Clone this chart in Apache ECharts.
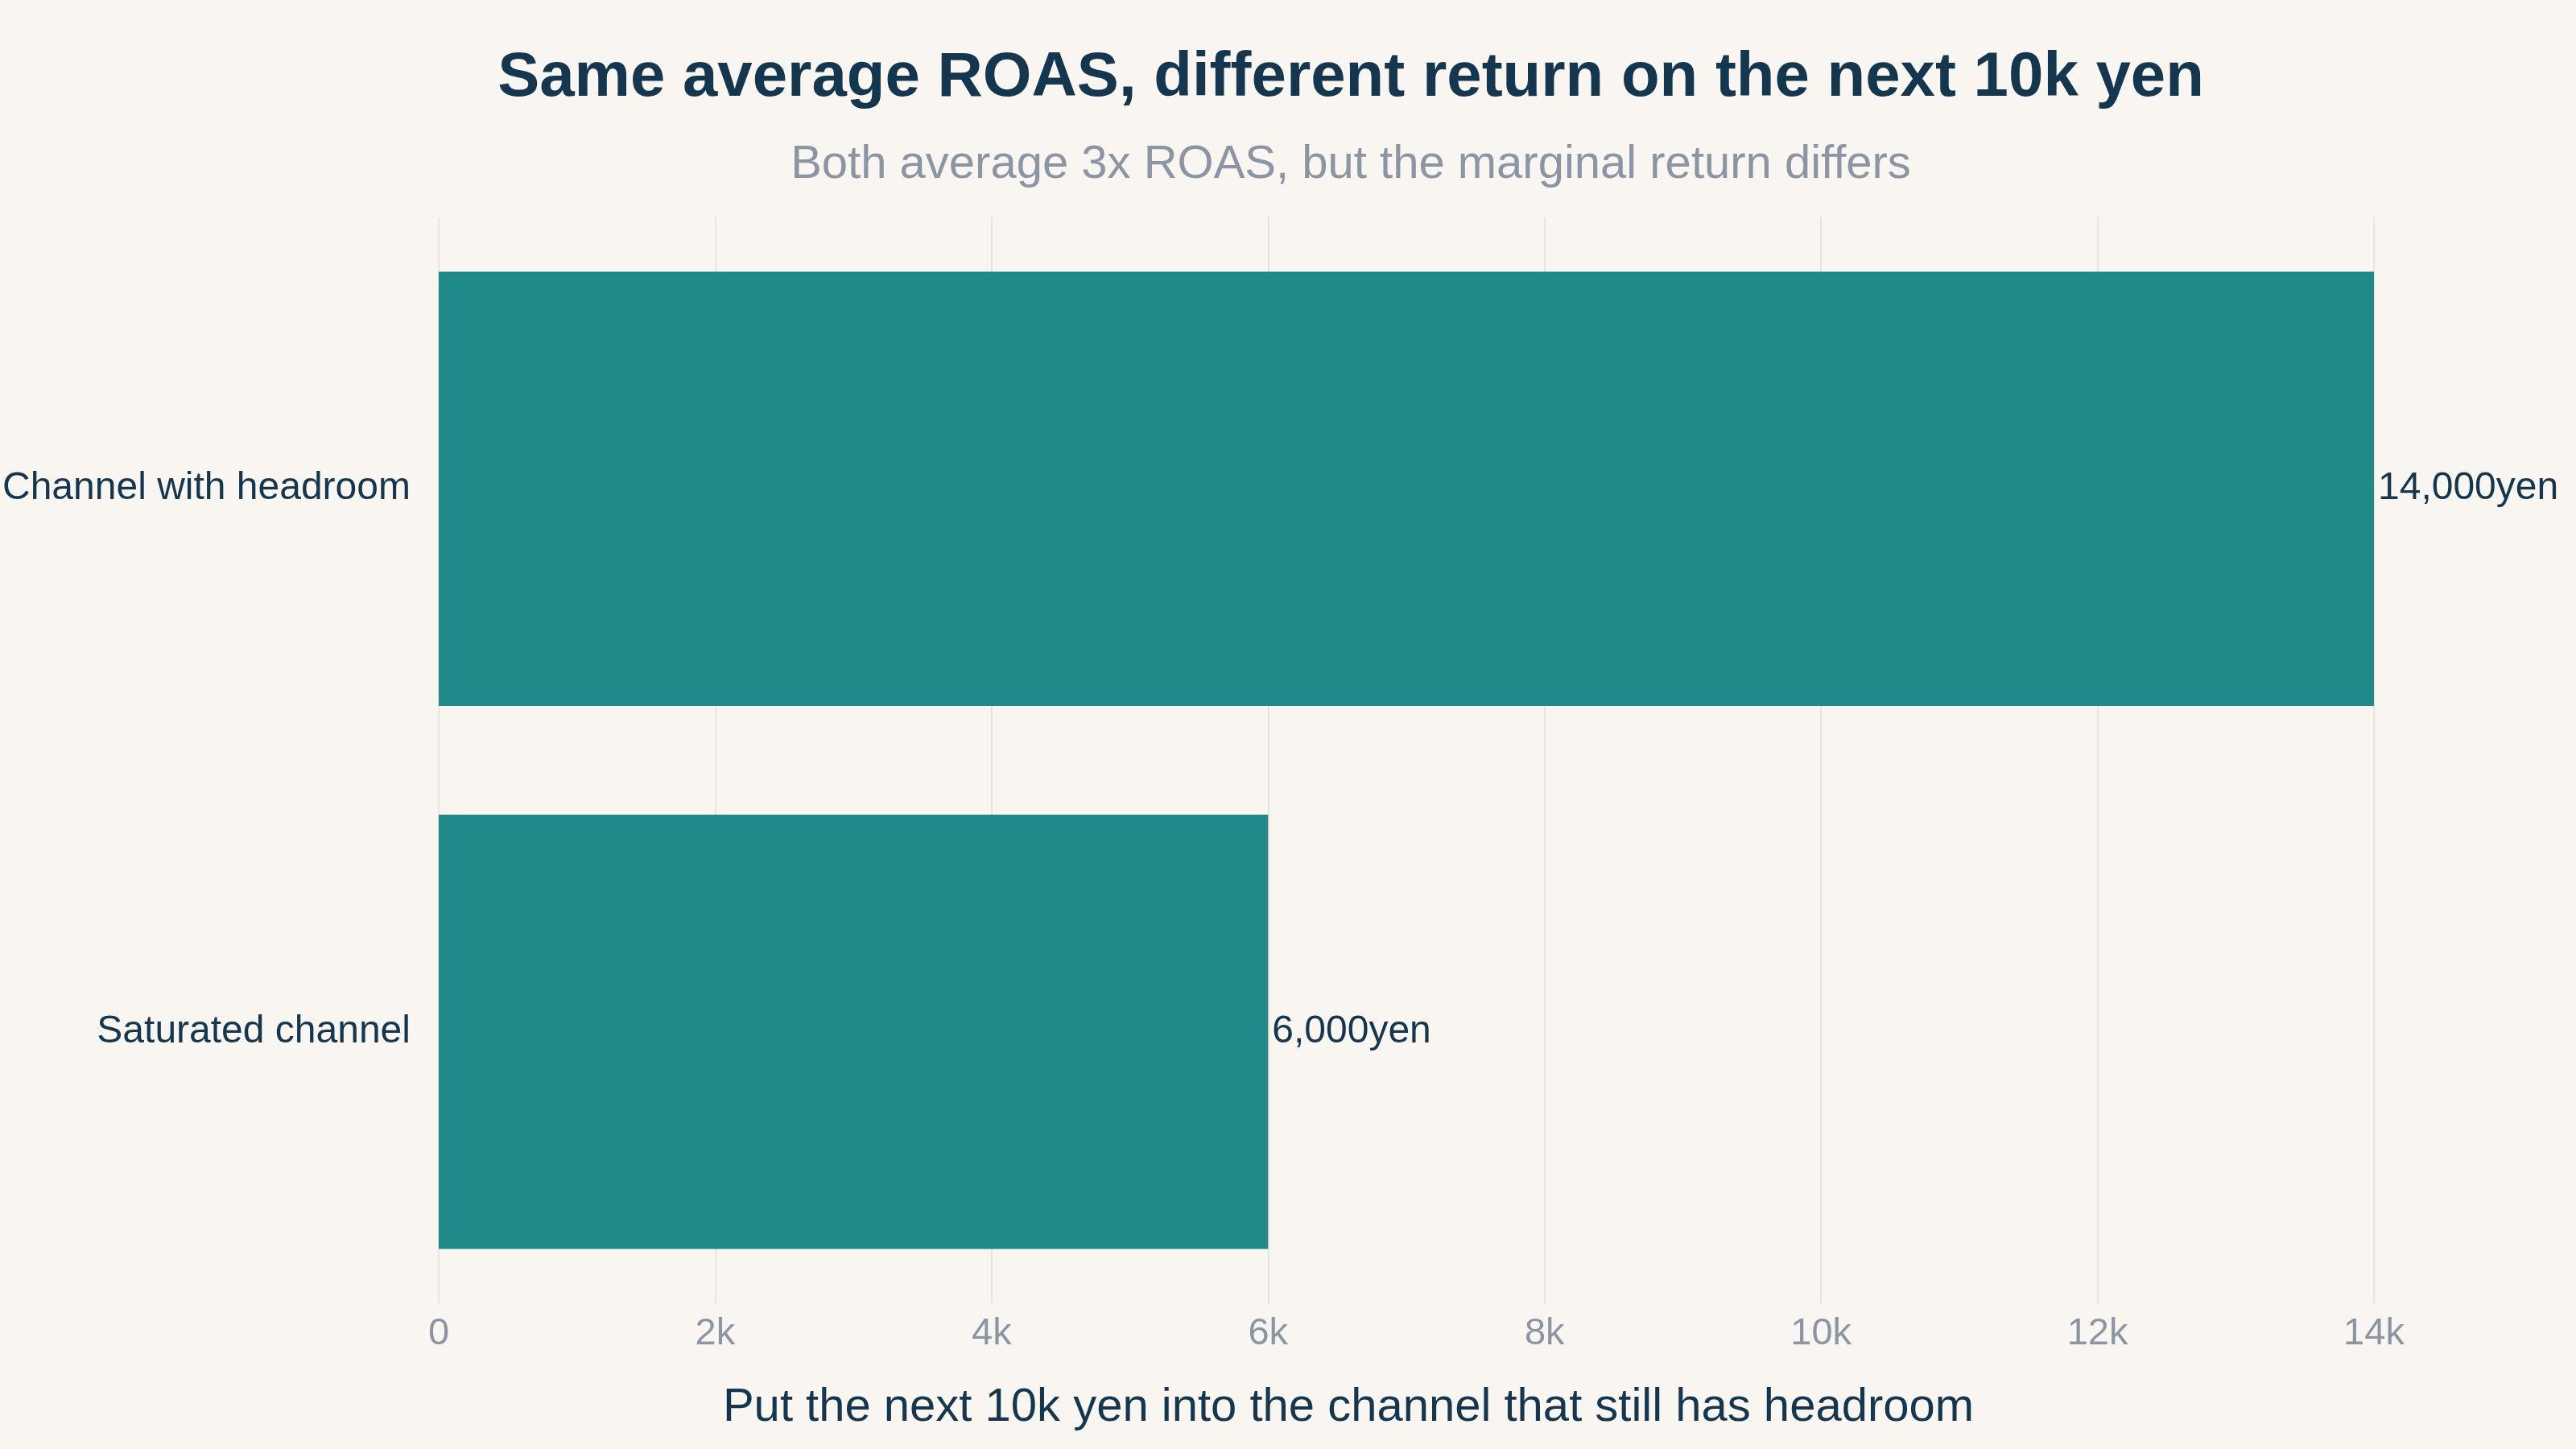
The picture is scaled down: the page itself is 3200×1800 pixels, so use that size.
<!DOCTYPE html>
<html>
<head>
<meta charset="utf-8">
<script src="https://cdn.jsdelivr.net/npm/echarts@6/dist/echarts.min.js"></script>
<style>
html,body{margin:0;padding:0;background:#f9f6f1;}
#chart{width:3200px;height:1800px;}
</style>
</head>
<body>
<div id="chart"></div>
<script>
const categories = ['Saturated channel', 'Channel with headroom'];
const returns = [6000, 14000];
const xTicks = [0, 2000, 4000, 6000, 8000, 10000, 12000, 14000];
const titleText = 'Same average ROAS, different return on the next 10k yen';
const subtitleText = 'Both average 3x ROAS, but the marginal return differs';
const xAxisTitle = 'Put the next 10k yen into the channel that still has headroom';

const FONT = '"Liberation Sans", Arial, Helvetica, sans-serif';
const NAVY = '#15364f';
const GRAY = '#8b95a3';

const chart = echarts.init(document.getElementById('chart'), null, {renderer: 'canvas'});
chart.setOption({
  backgroundColor: '#f9f6f1',
  animation: false,
  title: [
    {text: titleText, left: 1673, textAlign: 'center', top: 53,
     textStyle: {fontFamily: FONT, fontSize: 78, fontWeight: 'bold', color: NAVY, lineHeight: 78}},
    {text: subtitleText, left: 1673, textAlign: 'center', top: 171,
     textStyle: {fontFamily: FONT, fontSize: 58, fontWeight: 'normal', color: GRAY, lineHeight: 58}}
  ],
  grid: {left: 541, right: 251, top: 270, bottom: 181, containLabel: false},
  xAxis: {
    type: 'value', min: 0, max: xTicks[xTicks.length - 1], interval: xTicks[1] - xTicks[0],
    name: xAxisTitle, nameLocation: 'middle', nameGap: 101,
    nameTextStyle: {fontFamily: FONT, fontSize: 58, color: NAVY, padding: [0, 144, 0, 0]},
    axisLine: {show: false}, axisTick: {show: false},
    axisLabel: {fontFamily: FONT, fontSize: 47, color: GRAY, margin: 15,
      formatter: v => v === 0 ? '0' : (v / 1000) + 'k'},
    splitLine: {show: true, lineStyle: {color: '#e8e4dd', width: 2}}
  },
  yAxis: {
    type: 'category', data: categories,
    axisLine: {show: false}, axisTick: {show: false},
    axisLabel: {fontFamily: FONT, fontSize: 48, color: NAVY, margin: 35},
    splitLine: {show: false}
  },
  series: [{
    type: 'bar', data: returns, barCategoryGap: '20%',
    itemStyle: {color: '#1f8a89'},
    label: {show: true, position: 'right', distance: 5,
      fontFamily: FONT, fontSize: 48, color: NAVY,
      formatter: p => p.value.toLocaleString('en-US') + 'yen'}
  }]
});
</script>
</body>
</html>
